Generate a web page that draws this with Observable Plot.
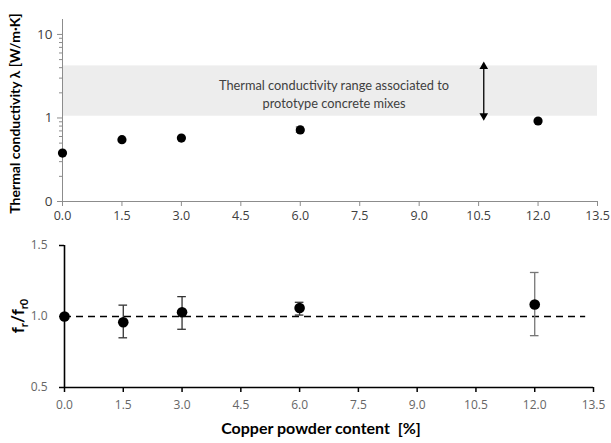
<!DOCTYPE html>
<html>
<head>
<meta charset="utf-8">
<script src="https://cdn.jsdelivr.net/npm/d3@7"></script>
<script src="https://cdn.jsdelivr.net/npm/@observablehq/plot@0.6"></script>
<style>
  html, body { margin: 0; padding: 0; background: #fff; }
  #wrap { position: relative; width: 611px; height: 443px; }
  #topPanel, #bottomPanel { position: absolute; left: 0; }
  #topPanel { top: 0; }
  #bottomPanel { top: 228px; }
</style>
</head>
<body>
<div id="wrap"><div id="topPanel"></div><div id="bottomPanel"></div></div>
<script>
// ---- data ----
const xTicks = [0, 1.5, 3, 4.5, 6, 7.5, 9, 10.5, 12, 13.5];
const copperPct = [0, 1.5, 3, 6, 12];
// thermal conductivity (W/m·K)
const lambda = [0.38, 0.55, 0.575, 0.72, 0.92];
const lambdaLo = [0.38, 0.55, 0.575, 0.675, 0.92];
const lambdaHi = [0.38, 0.55, 0.575, 0.78, 0.92];
const yLogMajor = [0.1, 1, 10];
const yLogMinor = [0.2, 0.3, 0.4, 0.5, 0.6, 0.7, 0.8, 0.9, 2, 3, 4, 5, 6, 7, 8, 9];
const bandRange = [1.05, 4.2];       // prototype concrete mixes range
const bandArrowX = 10.63;
const bandText = "Thermal conductivity range associated to\nprototype concrete mixes";
const bandTextPos = [6.85, 2.0];
// fr / fr0
const frRatio = [1.0, 0.96, 1.03, 1.06, 1.085];
const frLo = [1.0, 0.85, 0.91, 1.01, 0.865];
const frHi = [1.0, 1.08, 1.14, 1.10, 1.31];
const frTicks = [0.5, 1.0, 1.5];
const refLine = 1.0;
const refLineEnd = 13.3;

const topData = copperPct.map((x, i) => ({x, v: lambda[i], lo: lambdaLo[i], hi: lambdaHi[i]}));
const botData = copperPct.map((x, i) => ({x, v: frRatio[i], lo: frLo[i], hi: frHi[i]}));

const tickFont = "'Open Sans', sans-serif";
const titleFont = "Lato, 'Open Sans', sans-serif";

// ---- top chart ----
const topChart = Plot.plot({
  width: 611, height: 228,
  marginTop: 19, marginBottom: 27, marginLeft: 62, marginRight: 14,
  style: {fontFamily: tickFont, fontSize: "12.5px", color: "#404040", background: "white", overflow: "visible"},
  x: {domain: [0, 13.5]},
  y: {type: "log", domain: [0.1, 15.1]},
  marks: [
    Plot.rect([bandRange], {x1: 0, x2: 13.5, y1: d => d[0], y2: d => d[1], fill: "#ededed"}),
    Plot.ruleX([0], {stroke: "#8c8c8c", strokeWidth: 1}),
    Plot.ruleY([0.1], {stroke: "#8c8c8c", strokeWidth: 1}),
    Plot.axisY({ticks: yLogMajor, tickSize: 5, tickPadding: 5, stroke: "#8c8c8c",
      tickFormat: d => d < 1 ? "0" : String(d), fontSize: 13.5, label: null}),
    Plot.axisY({ticks: yLogMinor, tickSize: 3, stroke: "#8c8c8c", text: null, label: null}),
    Plot.axisX({ticks: xTicks, tickSize: 5, tickPadding: 5, stroke: "#8c8c8c",
      tickFormat: d3.format(".1f"), label: null}),
    Plot.link([bandRange], {x1: bandArrowX, x2: bandArrowX, y1: d => d[0] * 1.04, y2: d => d[1] * 0.96,
      stroke: "black", strokeWidth: 1.3}),
    Plot.dot([bandRange[1] * 0.985], {x: bandArrowX, y: d => d, symbol: "triangle", r: 3.2, fill: "black"}),
    Plot.dot([bandRange[0] * 1.015], {x: bandArrowX, y: d => d, symbol: "triangle", rotate: 180, r: 3.2, fill: "black"}),
    Plot.text([bandText], {x: bandTextPos[0], y: bandTextPos[1], text: d => d, fontFamily: titleFont,
      fontSize: 12.8, fill: "#404040", lineHeight: 1.42}),
    Plot.link(topData.filter(d => d.hi > d.lo), {x1: "x", x2: "x", y1: "lo", y2: "hi", stroke: "#333", strokeWidth: 1}),
    Plot.ruleY(topData.filter(d => d.hi > d.lo), {x1: d => d.x - 0.1, x2: d => d.x + 0.1, y: "lo", stroke: "#333"}),
    Plot.ruleY(topData.filter(d => d.hi > d.lo), {x1: d => d.x - 0.1, x2: d => d.x + 0.1, y: "hi", stroke: "#333"}),
    Plot.dot(topData, {x: "x", y: "v", r: 4.6, fill: "black"}),
    Plot.text(["Thermal conductivity λ [W/m·K]"], {frameAnchor: "left", textAnchor: "middle", rotate: -90,
      dx: -47, dy: 3, fontFamily: titleFont, fontWeight: "bold", fontSize: 14, fill: "black"})
  ]
});
document.getElementById("topPanel").appendChild(topChart);

// ---- bottom chart ----
const botChart = Plot.plot({
  width: 611, height: 215,
  marginTop: 17, marginBottom: 56, marginLeft: 64, marginRight: 18,
  style: {fontFamily: tickFont, fontSize: "12px", color: "#666", background: "white", overflow: "visible"},
  x: {domain: [0, 13.5]},
  y: {domain: [0.5, 1.5]},
  marks: [
    Plot.ruleY([refLine], {x1: 0, x2: refLineEnd, stroke: "black", strokeWidth: 1.5, strokeDasharray: "7,5"}),
    Plot.ruleX([0], {stroke: "black", strokeWidth: 1.6}),
    Plot.ruleY([0.5], {stroke: "black", strokeWidth: 1.6}),
    Plot.axisY({ticks: frTicks, tickSize: 5, tickPadding: 12, stroke: "black", strokeWidth: 1.5,
      tickFormat: d3.format(".1f"), label: null}),
    Plot.axisX({ticks: xTicks, tickSize: 5, tickPadding: 8, stroke: "black", strokeWidth: 1.5,
      tickFormat: d3.format(".1f"), label: null}),
    Plot.link(botData.filter(d => d.hi > d.lo), {x1: "x", x2: "x", y1: "lo", y2: "hi",
      stroke: d => d.x === 12 ? "#777" : "#333", strokeWidth: 1.3}),
    Plot.ruleY(botData.filter(d => d.hi > d.lo), {x1: d => d.x - 0.11, x2: d => d.x + 0.11, y: "lo",
      stroke: d => d.x === 12 ? "#777" : "#333", strokeWidth: 1.3}),
    Plot.ruleY(botData.filter(d => d.hi > d.lo), {x1: d => d.x - 0.11, x2: d => d.x + 0.11, y: "hi",
      stroke: d => d.x === 12 ? "#777" : "#333", strokeWidth: 1.3}),
    Plot.dot(botData, {x: "x", y: "v", r: 5.3, fill: "black"}),
    Plot.text(["Copper powder content  [%]"], {frameAnchor: "bottom", dy: 46, dx: -8,
      fontFamily: titleFont, fontWeight: "bold", fontSize: 16, fill: "black"})
  ]
});
document.getElementById("bottomPanel").appendChild(botChart);

// rich y label with subscripts for the bottom panel
const svgB = d3.select(botChart);
const yCenter = 17 + (215 - 17 - 56) / 2;
const lbl = svgB.append("text")
  .attr("transform", `translate(24,${yCenter}) rotate(-90)`)
  .attr("text-anchor", "middle")
  .attr("font-family", titleFont)
  .attr("font-weight", "bold")
  .attr("font-size", 17)
  .attr("fill", "black");
lbl.append("tspan").text("f");
lbl.append("tspan").attr("font-size", 11).attr("dy", 4).text("r");
lbl.append("tspan").attr("dy", -4).text("/f");
lbl.append("tspan").attr("font-size", 11).attr("dy", 4).text("r0");
</script>
</body>
</html>
